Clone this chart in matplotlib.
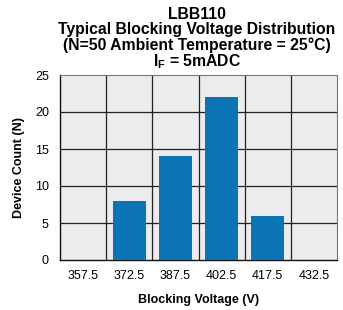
import matplotlib
matplotlib.use("Agg")
import matplotlib.pyplot as plt
import numpy as np

categories = ["357.5", "372.5", "387.5", "402.5", "417.5", "432.5"]
counts = [0, 8, 14, 22, 6, 0]
y_ticks = [0, 5, 10, 15, 20, 25]

plt.rcParams['font.family'] = ['Liberation Sans', 'DejaVu Sans']
plt.rcParams['mathtext.fontset'] = 'custom'
plt.rcParams['mathtext.rm'] = 'Liberation Sans:bold'
plt.rcParams['mathtext.bf'] = 'Liberation Sans:bold'

fig = plt.figure(figsize=(3.43, 3.10), dpi=100)
ax = fig.add_axes([60/343, 1 - 260/310, 277/343, 185/310])
ax.set_facecolor('#ececec')

x = np.arange(len(categories))
ax.bar(x, counts, width=0.72, color='#0a74b4', zorder=3)
ax.set_xlim(-0.5, len(categories) - 0.5)
ax.set_ylim(0, 25)
ax.set_yticks(y_ticks)
ax.set_xticks(x)
ax.set_xticklabels(categories)
for b in np.arange(0.5, len(categories) - 0.5, 1):
    ax.axvline(b, color='#222222', lw=0.9, zorder=2)
for yv in y_ticks[1:-1]:
    ax.axhline(yv, color='#222222', lw=0.9, zorder=2)
ax.tick_params(axis='x', length=0, labelsize=9, pad=7)
ax.tick_params(axis='y', length=0, labelsize=9, pad=8)
for s in ['left', 'bottom']:
    ax.spines[s].set_color('#111111')
    ax.spines[s].set_linewidth(1.0)
for s in ['top', 'right']:
    ax.spines[s].set_color('#777777')
    ax.spines[s].set_linewidth(0.8)

ax.set_ylabel('Device Count (N)', fontsize=9, fontweight='bold', labelpad=7)
ax.set_xlabel('Blocking Voltage (V)', fontsize=9, fontweight='bold', labelpad=9)

title = ("LBB110\nTypical Blocking Voltage Distribution\n"
         "(N=50 Ambient Temperature = 25\u00b0C)\n$\\mathbf{I_F}$ = 5mADC")
fig.text(197/343, 1 - 7/310, title, ha='center', va='top', fontsize=11.3,
         fontweight='bold', linespacing=1.0)

fig.savefig('out.png', dpi=100)
